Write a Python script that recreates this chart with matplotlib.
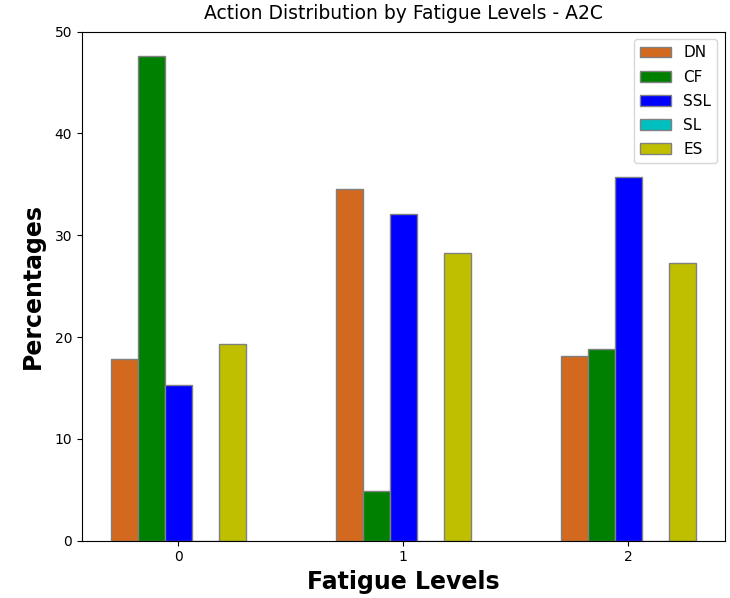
import numpy as np
import matplotlib
matplotlib.use("Agg")
import matplotlib.pyplot as plt

fatigue_levels = ["0", "1", "2"]
actions = ["DN", "CF", "SSL", "SL", "ES"]
DN = [17.8, 34.5, 18.1]
CF = [47.6, 4.9, 18.8]
SSL = [15.3, 32.1, 35.7]
SL = [0.0, 0.0, 0.0]
ES = [19.3, 28.3, 27.3]
series = [DN, CF, SSL, SL, ES]
colors = ["#d2691e", "#008000", "#0000ff", "#00bfbf", "#bfbf00"]

fig = plt.figure(figsize=(7.3, 5.98), dpi=100)
ax = fig.add_axes([0.112, 0.096, 0.881, 0.851])
width = 0.12
x = np.arange(len(fatigue_levels))
for i, (name, vals, c) in enumerate(zip(actions, series, colors)):
    ax.bar(x + (i - 2) * width, vals, width, color=c, edgecolor="grey", label=name)

ax.set_xticks(x)
ax.set_xticklabels(fatigue_levels)
ax.set_ylim(0, 50)
ax.set_xlabel("Fatigue Levels", fontsize=17, fontweight="bold", labelpad=4)
ax.set_ylabel("Percentages", fontsize=17, fontweight="bold", labelpad=7)
ax.set_title("Action Distribution by Fatigue Levels - A2C", fontsize=13.5, pad=9)
ax.legend(loc="upper right", fontsize=11, labelspacing=0.6)
fig.savefig("out.png", dpi=100)
